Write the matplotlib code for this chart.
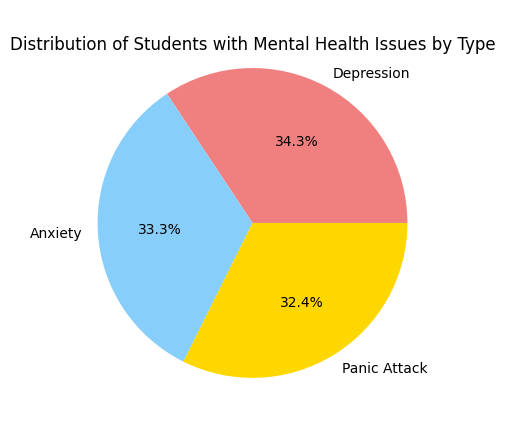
import matplotlib

matplotlib.use("Agg")
import matplotlib.pyplot as plt

labels = ["Depression", "Anxiety", "Panic Attack"]
counts = [35, 34, 33]
colors = ["lightcoral", "lightskyblue", "gold"]

fig = plt.figure(figsize=(5.05, 4.27), dpi=100)
ax = fig.add_axes([0.0, 0.022, 1.0, 0.907])
ax.pie(counts, labels=labels, colors=colors, autopct="%1.1f%%")
ax.set_title("Distribution of Students with Mental Health Issues by Type", y=0.95, pad=0)
fig.savefig("out.png", dpi=100)
